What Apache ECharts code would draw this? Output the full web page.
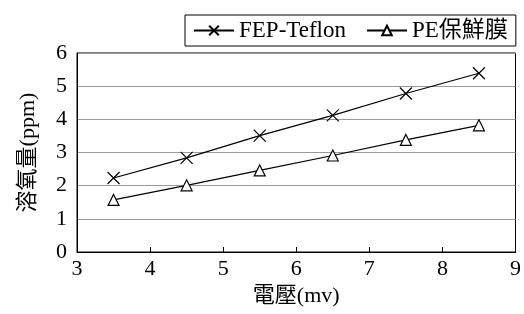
<!DOCTYPE html>
<html>
<head>
<meta charset="utf-8">
<script src="https://cdn.jsdelivr.net/npm/echarts@6/dist/echarts.min.js"></script>
<style>
  html, body { margin: 0; padding: 0; background: #fff; }
  #chart { width: 524px; height: 314px; }
</style>
</head>
<body>
<div id="chart"></div>
<script>
// 資料
const voltage = [3.5, 4.5, 5.5, 6.5, 7.5, 8.5];
const fepTeflon = [2.23, 2.84, 3.51, 4.12, 4.78, 5.39];
const pe = [1.57, 2.01, 2.46, 2.91, 3.38, 3.82];
const seriesNames = ['FEP-Teflon', 'PE保鮮膜'];

const font = '"Liberation Serif", "Times New Roman", "Noto Sans CJK TC", serif';
const crossPath = 'path://M0,0L10,10M10,0L0,10';

const chart = echarts.init(document.getElementById('chart'));

function pairs(xs, ys) {
  return xs.map(function (x, i) { return [x, ys[i]]; });
}

const option = {
  animation: false,
  textStyle: { fontFamily: font, color: '#000' },
  legend: {
    left: 185,
    top: 15,
    padding: [4, 8, 4, 8],
    itemWidth: 40,
    itemHeight: 12,
    itemGap: 20,
    borderColor: '#000',
    borderWidth: 1,
    backgroundColor: '#fff',
    textStyle: { fontFamily: font, fontSize: 23, color: '#000' },
    data: seriesNames
  },
  grid: {
    left: 77, right: 5, top: 53, bottom: 62,
    show: true, borderColor: '#000', borderWidth: 1
  },
  xAxis: {
    type: 'value',
    min: 3, max: 9, interval: 1,
    name: '電壓(mv)',
    nameLocation: 'middle',
    nameGap: 32,
    nameTextStyle: { fontFamily: font, fontSize: 22, color: '#000' },
    axisLine: { lineStyle: { color: '#000', width: 1 } },
    axisTick: { inside: true, length: 5, lineStyle: { color: '#000' } },
    axisLabel: { fontFamily: font, fontSize: 22, color: '#000', margin: 6 },
    splitLine: { show: false }
  },
  yAxis: {
    type: 'value',
    min: 0, max: 6, interval: 1,
    name: '溶氧量(ppm)',
    nameLocation: 'middle',
    nameGap: 38,
    nameTextStyle: { fontFamily: font, fontSize: 22, color: '#000' },
    axisLine: { show: true, lineStyle: { color: '#000', width: 1 } },
    axisTick: { show: false },
    axisLabel: { fontFamily: font, fontSize: 22, color: '#000', margin: 10 },
    splitLine: { lineStyle: { color: '#999', width: 1 } }
  },
  series: [
    {
      name: seriesNames[0],
      type: 'line',
      data: pairs(voltage, fepTeflon),
      symbol: crossPath,
      symbolSize: 12,
      lineStyle: { color: '#000', width: 1.2 },
      itemStyle: { color: '#000', borderColor: '#000', borderWidth: 1.2 }
    },
    {
      name: seriesNames[1],
      type: 'line',
      data: pairs(voltage, pe),
      symbol: 'triangle',
      symbolSize: 11,
      lineStyle: { color: '#000', width: 1.2 },
      itemStyle: { color: '#fff', borderColor: '#000', borderWidth: 1.2 }
    }
  ]
};

chart.setOption(option);
</script>
</body>
</html>
